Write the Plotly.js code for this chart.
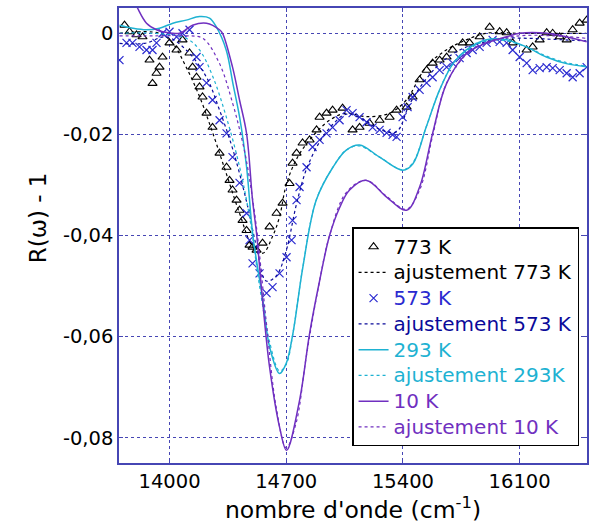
<!DOCTYPE html>
<html>
<head>
<meta charset="utf-8">
<script src="https://cdn.plot.ly/plotly-3.0.1.min.js"></script>
<style>html,body{margin:0;padding:0;background:#fff;}</style>
</head>
<body>
<div id="chart" style="width:589px;height:528px;"></div>
<script>
// ---- data ----
const x773 = [13730,13760,13802,13838,13880,13898,13922,13940,13958,14000,14042,14078,14120,14138,14162,14180,14198,14222,14258,14300,14342,14360,14378,14402,14420,14438,14462,14480,14498,14522,14558,14600,14642,14678,14720,14738,14762,14798,14840,14882,14900,14942,14978,15038,15098,15140,15200,15260,15320,15362,15422,15458,15500,15542,15578,15620,15662,15698,15758,15800,15860,15920,15980,16022,16058,16142,16178,16220,16262,16298,16340,16382,16418,16460,16502];
const y773 = [0.0016,0.0003,-0.0003,-0.0007,-0.0053,-0.0099,-0.0079,-0.0067,-0.0047,-0.0019,-0.0033,-0.0013,-0.0039,-0.0067,-0.0087,-0.0106,-0.0126,-0.0158,-0.0186,-0.0237,-0.0265,-0.0291,-0.0310,-0.0330,-0.0350,-0.0370,-0.0390,-0.0419,-0.0423,-0.0429,-0.0415,-0.0383,-0.0356,-0.0336,-0.0297,-0.0257,-0.0237,-0.0217,-0.0211,-0.0191,-0.0166,-0.0158,-0.0152,-0.0148,-0.0191,-0.0186,-0.0178,-0.0172,-0.0166,-0.0152,-0.0146,-0.0126,-0.0092,-0.0073,-0.0059,-0.0053,-0.0047,-0.0033,-0.0019,-0.0019,-0.0007,0.0012,0.0003,0.0001,-0.0019,-0.0033,-0.0027,-0.0013,0.0001,0.0,-0.0007,-0.0013,0.0007,0.0020,0.0026];

const xFit773 = [13700,13940,14020,14100,14180,14260,14340,14420,14500,14560,14620,14660,14700,14760,14840,14960,15060,15180,15320,15420,15540,15660,15780,15900,16100,16300,16500];
const yFit773 = [0.0,0.0,-0.002,-0.0067,-0.0125,-0.0198,-0.0277,-0.0356,-0.0423,-0.0435,-0.0400,-0.0363,-0.0300,-0.0250,-0.0211,-0.0172,-0.0158,-0.0165,-0.0158,-0.0132,-0.0066,-0.0033,-0.0013,0.0,0.0,0.0,0.0];

const x573 = [13700,13742,13778,13820,13862,13898,13922,13958,14000,14042,14078,14120,14162,14180,14222,14258,14300,14342,14378,14420,14462,14480,14498,14540,14582,14618,14660,14702,14732,14738,14762,14780,14822,14858,14900,14942,14978,15020,15062,15098,15140,15182,15218,15260,15302,15338,15362,15398,15428,15458,15500,15542,15578,15620,15662,15698,15740,15782,15818,15860,15902,15938,15980,16022,16058,16100,16142,16178,16220,16262,16298,16340,16382,16418,16460,16502];
const y573 = [-0.0053,-0.0019,-0.0019,-0.0027,-0.0033,-0.0033,-0.0019,0.0,0.0003,-0.0007,0.0,0.0007,-0.0047,-0.0067,-0.0098,-0.0132,-0.0172,-0.0198,-0.0245,-0.0296,-0.0356,-0.0409,-0.0455,-0.0475,-0.0514,-0.0502,-0.0475,-0.0443,-0.0409,-0.0370,-0.0330,-0.0304,-0.0265,-0.0225,-0.0211,-0.0198,-0.0186,-0.0172,-0.0152,-0.0158,-0.0166,-0.0176,-0.0186,-0.0191,-0.0197,-0.0201,-0.0205,-0.0166,-0.0146,-0.0126,-0.0112,-0.0098,-0.0087,-0.0073,-0.0067,-0.0059,-0.0049,-0.0039,-0.0033,-0.0027,-0.0019,-0.0013,-0.0017,-0.0019,-0.0033,-0.0047,-0.0059,-0.0073,-0.0069,-0.0067,-0.0069,-0.0073,-0.0079,-0.0087,-0.0079,-0.0067];

const xFit573 = [13700,13850,13980,14100,14220,14300,14380,14460,14520,14580,14640,14700,14760,14820,14900,14980,15060,15160,15260,15360,15440,15540,15640,15760,15880,16000,16150,16300,16500];
const yFit573 = [-0.002,-0.002,-0.0007,-0.0033,-0.0086,-0.0152,-0.0230,-0.0330,-0.0420,-0.0490,-0.0480,-0.0430,-0.0340,-0.0270,-0.0215,-0.0180,-0.0160,-0.0170,-0.0190,-0.0195,-0.0140,-0.0090,-0.0055,-0.0030,-0.0018,-0.0010,-0.0010,-0.0012,-0.0015];

const x293 = [13700,13780,13860,13940,14020,14100,14180,14240,14280,14340,14380,14420,14462,14500,14560,14600,14660,14700,14740,14800,14880,14980,15060,15140,15260,15400,15460,15540,15620,15700,15780,15900,16020,16140,16260,16380,16500];
const y293 = [0.0016,0.0010,0.0007,0.0010,0.0020,0.0026,0.0033,0.0030,0.0013,-0.0033,-0.0099,-0.0165,-0.0264,-0.0400,-0.0528,-0.0620,-0.0673,-0.0653,-0.0594,-0.0462,-0.0330,-0.0265,-0.0231,-0.0221,-0.0245,-0.0271,-0.0258,-0.0185,-0.0112,-0.0060,-0.0033,-0.0013,-0.0013,-0.0027,-0.0047,-0.0060,-0.0066];

const xFit293 = [13700,13900,14100,14180,14260,14340,14420,14480,14540,14600,14660,14700,14740,14800,14880,14980,15060,15140,15260,15400,15460,15540,15620,15700,15780,15900,16020,16140,16260,16380,16500];
const yFit293 = [0.0,0.0,-0.001,-0.0033,-0.0086,-0.0165,-0.0264,-0.0363,-0.050,-0.061,-0.0668,-0.0655,-0.0594,-0.0462,-0.0330,-0.0265,-0.0231,-0.0223,-0.0245,-0.0270,-0.0256,-0.0185,-0.0112,-0.0060,-0.0035,-0.0015,-0.0015,-0.0027,-0.0045,-0.0058,-0.0065];

const x10 = [13700,13800,13862,13922,13960,14060,14138,14222,14300,14318,14378,14420,14462,14498,14522,14558,14600,14660,14702,14780,14840,14900,14960,15020,15080,15182,15302,15422,15500,15578,15662,15782,15902,16022,16100,16262,16502];
const y10 = [0.012,0.0055,0.0020,0.0007,0.0003,0.0,0.0016,0.0020,0.0007,0.0,-0.0067,-0.0132,-0.0198,-0.0330,-0.0396,-0.0528,-0.0660,-0.0779,-0.0825,-0.0726,-0.0594,-0.0490,-0.0400,-0.0345,-0.0310,-0.0291,-0.0324,-0.0350,-0.0304,-0.0198,-0.0099,-0.0040,-0.0019,-0.0007,0.0,0.0,-0.0017];

const xFit10 = [13700,13900,14100,14200,14300,14380,14420,14460,14520,14580,14640,14700,14760,14820,14900,14960,15060,15180,15300,15420,15500,15580,15660,15780,15900,16100,16300,16500];
const yFit10 = [-0.0005,-0.0005,-0.0005,-0.001,-0.006,-0.014,-0.019,-0.025,-0.038,-0.057,-0.074,-0.082,-0.077,-0.064,-0.049,-0.040,-0.0315,-0.0291,-0.0322,-0.0348,-0.031,-0.020,-0.010,-0.0042,-0.0018,-0.0005,-0.0005,-0.001];

const xTickVals = [14000,14700,15400,16100];
const xTickText = ['14000','14700','15400','16100'];
const yTickVals = [0,-0.02,-0.04,-0.06,-0.08];
const yTickText = ['0','-0,02','-0,04','-0,06','-0,08'];
const xTitle = "nombre d'onde (cm<sup>-1</sup>)";
const yTitle = 'R(ω) - 1';

// ---- styles ----
const C773 = '#000000', C573 = '#2a2ad0', C573fit = '#0a0a9a', C293 = '#1eb2d2', C10 = '#7030c0';
const AX = '#4646b4';
const FONT = 'DejaVu Sans, Verdana, sans-serif';
const lab = (t, c) => '<span style="color:' + c + ';font-size:20px">' + t + '</span>';

const traces = [
  {x: x773, y: y773, mode: 'markers', name: lab('773 K', C773),
   marker: {symbol: 'triangle-up-open', size: 8, color: C773, line: {width: 1.1, color: C773}}},
  {x: xFit773, y: yFit773, mode: 'lines', name: lab('ajustement 773 K', C773),
   line: {color: C773, dash: 'dot', width: 1.2, shape: 'spline'}},
  {x: x573, y: y573, mode: 'markers', name: lab('573 K', C573),
   marker: {symbol: 'x-thin-open', size: 8, color: C573, line: {width: 1.2, color: C573}}},
  {x: xFit573, y: yFit573, mode: 'lines', name: lab('ajustement 573 K', C573fit),
   line: {color: C573fit, dash: 'dot', width: 1.2, shape: 'spline'}},
  {x: x293, y: y293, mode: 'lines', name: lab('293 K', C293),
   line: {color: C293, width: 1.5, shape: 'spline'}},
  {x: xFit293, y: yFit293, mode: 'lines', name: lab('ajustement 293K', C293),
   line: {color: C293, dash: 'dot', width: 1.2, shape: 'spline'}},
  {x: x10, y: y10, mode: 'lines', name: lab('10 K', C10),
   line: {color: C10, width: 1.5, shape: 'spline'}},
  {x: xFit10, y: yFit10, mode: 'lines', name: lab('ajustement 10 K', C10),
   line: {color: C10, dash: 'dot', width: 1.2, shape: 'spline'}}
];

const layout = {
  width: 589, height: 528,
  margin: {l: 119, r: 2, t: 8, b: 65},
  paper_bgcolor: '#ffffff', plot_bgcolor: '#ffffff',
  font: {family: FONT, size: 19.5, color: '#000'},
  showlegend: true,
  legend: {x: 0.498, y: 0.518, xanchor: 'left', yanchor: 'top',
    bgcolor: '#ffffff', bordercolor: '#000', borderwidth: 1.5,
    font: {family: FONT, size: 17.5}, tracegroupgap: 0, itemwidth: 30},
  xaxis: {range: [13697, 16504], tickmode: 'array', tickvals: xTickVals, ticktext: xTickText,
    showline: true, mirror: 'ticks', linecolor: AX, linewidth: 1.5,
    ticks: 'inside', ticklen: 4, tickcolor: AX,
    showgrid: true, gridcolor: AX, griddash: 'dot', gridwidth: 1, zeroline: false,
    tickfont: {family: FONT, size: 19.5, color: '#000'},
    title: {text: xTitle, font: {family: FONT, size: 23.5, color: '#000'}, standoff: 6}},
  yaxis: {range: [-0.085, 0.005], tickmode: 'array', tickvals: yTickVals, ticktext: yTickText,
    showline: true, mirror: 'ticks', linecolor: AX, linewidth: 1.5,
    ticks: 'inside', ticklen: 4, tickcolor: AX,
    showgrid: true, gridcolor: AX, griddash: 'dot', gridwidth: 1, zeroline: false,
    tickfont: {family: FONT, size: 19.5, color: '#000'}},
  annotations: [{text: yTitle, xref: 'paper', yref: 'paper', x: -0.173, y: 0.538,
    xanchor: 'center', yanchor: 'middle', textangle: -90, showarrow: false,
    font: {family: FONT, size: 23, color: '#000'}}]
};

Plotly.newPlot('chart', traces, layout, {displayModeBar: false, responsive: false});
</script>
</body>
</html>
